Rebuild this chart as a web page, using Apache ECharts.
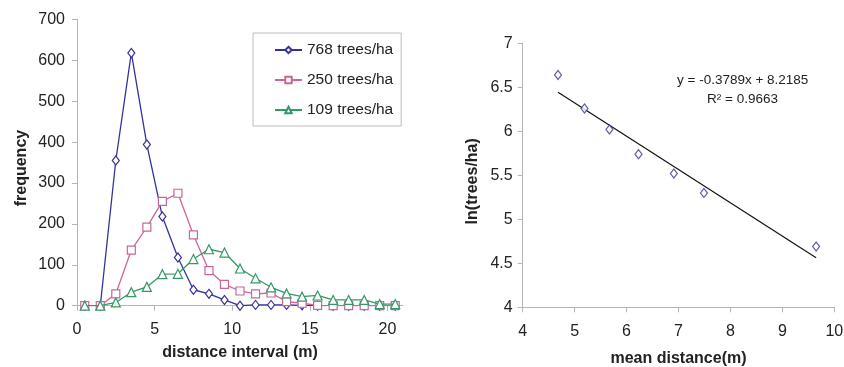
<!DOCTYPE html>
<html>
<head>
<meta charset="utf-8">
<script src="https://cdn.jsdelivr.net/npm/echarts@6/dist/echarts.min.js"></script>
<style>
html,body{margin:0;padding:0;background:#fff;}
#c{width:844px;height:367px;}
</style>
</head>
<body>
<div id="c"></div>
<script>
// ---- Left chart data: frequency by distance interval ----
const distanceX = [0.5,1.5,2.5,3.5,4.5,5.5,6.5,7.5,8.5,9.5,10.5,11.5,12.5,13.5,14.5,15.5,16.5,17.5,18.5,19.5,20.5];
const distanceTicks = [0,5,10,15,20];
const seriesNames = ['768 trees/ha','250 trees/ha','109 trees/ha'];
const freq768 = [0,0,355,618,394,218,118,39,29,14,0,2,2,2,1,0,0,0,0,0,0];
const freq250 = [0,0,29,136,192,255,275,173,86,52,36,29,31,10,6,1,0,0,0,0,0];
const freq109 = [0,0,8,33,46,77,78,114,138,130,91,67,45,30,22,25,14,14,14,4,4];

// ---- Right chart data: ln(density) vs mean distance ----
const meanDistance = [4.68,5.19,5.67,6.23,6.91,7.49,9.65];
const lnDensity = [6.64,6.26,6.02,5.74,5.52,5.30,4.69];
const trendX = [4.68,9.65];
const trendY = [6.445,4.562];
const equationText = 'y = -0.3789x + 8.2185';
const r2Text = 'R² = 0.9663';

const FONT = '"Liberation Sans", Arial, sans-serif';
const AXIS_COLOR = '#b5b5b5';
const TEXT_COLOR = '#222';
const colors = ['#333399','#cc6699','#339966'];

function pairs(xs, ys){ return xs.map((x,i)=>[x, ys[i]]); }

const chart = echarts.init(document.getElementById('c'), null, {renderer:'canvas'});

const axisCommon = {
  axisLine:{show:true, lineStyle:{color:AXIS_COLOR, width:1}},
  axisTick:{show:true, length:5, lineStyle:{color:AXIS_COLOR}},
  splitLine:{show:false},
  nameTextStyle:{fontFamily:FONT, fontSize:16, fontWeight:'bold', color:TEXT_COLOR},
};

const lineSeries = [freq768, freq250, freq109].map((vals, i) => ({
  name: seriesNames[i],
  type:'line',
  xAxisIndex:0, yAxisIndex:0,
  data: pairs(distanceX, vals),
  symbol: ['diamond','rect','triangle'][i],
  symbolSize: [[7,9],8,9][i],
  showAllSymbol:true,
  lineStyle:{color:colors[i], width:1.3},
  itemStyle:{color:'#fff', borderColor:colors[i], borderWidth:1.2},
  emphasis:{disabled:true},
  animation:false,
  z: 2 + i
}));

const option = {
  animation:false,
  backgroundColor:'#fff',
  textStyle:{fontFamily:FONT},
  grid:[
    {left:77, top:19.4, right:441, bottom:61.3, containLabel:false, outerBoundsMode:'none'},
    {left:522.7, top:43.3, right:9.7, bottom:59.7, containLabel:false, outerBoundsMode:'none'}
  ],
  legend:{
    data: seriesNames.map((n,i)=>({name:n, itemStyle:{color:'#fff', borderColor:colors[i]}, lineStyle:{color:colors[i]}})),
    orient:'vertical',
    left:253, top:33,
    padding:[9,8,8,21],
    itemGap:14,
    itemWidth:27, itemHeight:8,
    borderColor:'#bdbdbd', borderWidth:1,
    backgroundColor:'#fff',
    textStyle:{fontFamily:FONT, fontSize:15.5, color:TEXT_COLOR},
    selectedMode:false
  },
  xAxis:[
    Object.assign({}, axisCommon, {
      gridIndex:0, type:'value', min:0, max:21, interval:5,
      name:'distance interval (m)', nameLocation:'middle', nameGap:39,
      axisTick:{show:true, length:5, lineStyle:{color:AXIS_COLOR}, customValues:distanceTicks},
      axisLabel:{fontFamily:FONT, fontSize:16, color:TEXT_COLOR, margin:16, customValues:distanceTicks,
        formatter:(v)=> (v % 5 === 0 ? String(v) : '')}
    }),
    Object.assign({}, axisCommon, {
      gridIndex:1, type:'value', min:4, max:10, interval:1,
      name:'mean distance(m)', nameLocation:'middle', nameGap:43,
      axisLabel:{fontFamily:FONT, fontSize:16, color:TEXT_COLOR, margin:16}
    })
  ],
  yAxis:[
    Object.assign({}, axisCommon, {
      gridIndex:0, type:'value', min:0, max:700, interval:100,
      name:'frequency', nameLocation:'middle', nameGap:47, nameRotate:90,
      nameTextStyle:{fontFamily:FONT, fontSize:16, fontWeight:'bold', color:TEXT_COLOR, padding:[0,11,0,0]},
      axisLabel:{fontFamily:FONT, fontSize:16, color:TEXT_COLOR, margin:12}
    }),
    Object.assign({}, axisCommon, {
      gridIndex:1, type:'value', min:4, max:7, interval:0.5,
      name:'ln(trees/ha)', nameLocation:'middle', nameGap:42, nameRotate:90,
      nameTextStyle:{fontFamily:FONT, fontSize:16, fontWeight:'bold', color:TEXT_COLOR, padding:[0,12,0,0]},
      axisLabel:{fontFamily:FONT, fontSize:16, color:TEXT_COLOR, margin:10}
    })
  ],
  series: lineSeries.concat([
    {
      name:'trend', type:'line', xAxisIndex:1, yAxisIndex:1,
      data: pairs(trendX, trendY), symbol:'none',
      lineStyle:{color:'#111', width:1.2}, emphasis:{disabled:true}, z:2
    },
    {
      name:'points', type:'scatter', xAxisIndex:1, yAxisIndex:1,
      data: pairs(meanDistance, lnDensity), symbol:'diamond', symbolSize:[7,9],
      itemStyle:{color:'#fff', borderColor:'#333399', borderWidth:1.2},
      emphasis:{disabled:true}, z:3
    }
  ]),
  graphic:[
    {type:'text', left:677, top:73, style:{text:equationText, font:'13.5px ' + FONT, fill:TEXT_COLOR}},
    {type:'text', left:707, top:92, style:{text:r2Text, font:'13.5px ' + FONT, fill:TEXT_COLOR}}
  ]
};
chart.setOption(option);
</script>
</body>
</html>
